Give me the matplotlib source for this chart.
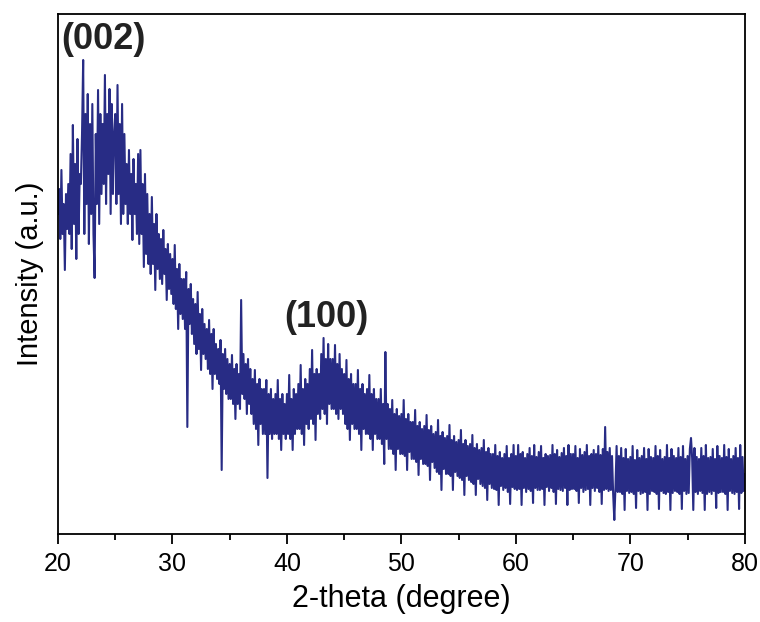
import numpy as np
import matplotlib.pyplot as plt
from matplotlib.ticker import MultipleLocator

plt.rcParams['font.family'] = ['Liberation Sans', 'DejaVu Sans']

# XRD pattern, 2-theta 20..80 deg, step 0.1 (arbitrary intensity units)
intensity = [
    320, 345, 295, 364, 300, 330, 264, 340, 305, 350,  # 20
    300, 380, 285, 409, 310, 370, 275, 395, 300, 360,  # 21
    350, 400, 474, 300, 420, 330, 440, 290, 410, 320,  # 22
    430, 300, 256, 400, 330, 444, 310, 420, 340, 410,  # 23
    350, 459, 330, 420, 360, 445, 320, 430, 340, 400,  # 24
    420, 330, 449, 340, 410, 310, 430, 320, 400, 330,  # 25
    370, 310, 384, 320, 360, 294, 375, 320, 350, 300,  # 26
    380, 290, 384, 300, 350, 267, 360, 280, 340, 270,  # 27
    320, 260, 337, 270, 310, 244, 320, 265, 300, 255,  # 28
    295, 250, 304, 260, 285, 234, 290, 245, 280, 240,  # 29
    275, 230, 289, 225, 265, 205, 270, 220, 255, 215,  # 30
    255, 205, 262, 107, 245, 210, 250, 200, 235, 190,  # 31
    230, 180, 242, 185, 220, 164, 225, 180, 210, 175,  # 32
    205, 165, 214, 160, 200, 145, 205, 160, 190, 155,  # 33
    185, 150, 194, 64, 180, 145, 185, 140, 175, 135,   # 34
    170, 135, 179, 130, 165, 115, 170, 130, 160, 125,  # 35
    234, 140, 180, 135, 170, 120, 175, 130, 165, 120,  # 36
    155, 110, 164, 105, 150, 89, 155, 110, 145, 100,   # 37
    145, 100, 154, 56, 140, 100, 145, 95, 135, 100,    # 38
    140, 100, 154, 95, 135, 84, 140, 100, 130, 95,     # 39
    140, 100, 159, 95, 135, 84, 145, 100, 140, 105,    # 40
    150, 105, 169, 100, 145, 89, 155, 110, 150, 105,   # 41
    165, 115, 184, 110, 160, 94, 165, 120, 160, 115,   # 42
    180, 125, 196, 120, 175, 110, 190, 130, 175, 125,  # 43
    175, 125, 189, 120, 170, 115, 180, 125, 165, 120,  # 44
    160, 110, 174, 105, 155, 94, 160, 110, 150, 105,   # 45
    150, 105, 164, 100, 145, 84, 150, 105, 140, 100,   # 46
    145, 100, 159, 95, 140, 84, 145, 100, 135, 95,     # 47
    135, 95, 145, 90, 130, 70, 182, 95, 130, 85,       # 48
    125, 85, 134, 80, 120, 64, 125, 85, 118, 80,       # 49
    120, 80, 134, 78, 115, 64, 120, 82, 112, 75,       # 50
    112, 75, 124, 72, 108, 59, 112, 75, 105, 70,       # 51
    108, 70, 119, 68, 104, 54, 108, 72, 100, 66,       # 52
    102, 62, 114, 60, 98, 44, 102, 65, 96, 60,         # 53
    98, 60, 109, 58, 94, 44, 98, 62, 92, 58,           # 54
    94, 56, 104, 54, 90, 39, 94, 58, 88, 54,           # 55
    90, 52, 99, 50, 86, 39, 90, 55, 84, 50,            # 56
    86, 48, 94, 46, 82, 34, 86, 50, 80, 46,            # 57
    80, 45, 89, 44, 78, 29, 82, 48, 76, 44,            # 58
    80, 46, 88, 42, 76, 30, 80, 47, 89, 45,            # 59
    78, 44, 89, 45, 80, 29, 82, 46, 76, 42,            # 60
    80, 45, 86, 43, 78, 31, 89, 46, 77, 44,            # 61
    82, 44, 88, 45, 76, 29, 80, 47, 78, 43,            # 62
    79, 46, 89, 42, 80, 30, 84, 45, 77, 44,            # 63
    81, 43, 86, 46, 78, 29, 89, 44, 80, 45,            # 64
    80, 45, 88, 43, 76, 31, 85, 46, 79, 42,            # 65
    82, 44, 89, 45, 78, 29, 80, 46, 84, 43,            # 66
    80, 46, 88, 42, 79, 30, 85, 44, 107, 45,           # 67
    82, 43, 86, 44, 78, 40, 14, 46, 88, 42,            # 68
    78, 42, 86, 40, 76, 24, 85, 43, 75, 41,            # 69
    77, 42, 88, 40, 74, 26, 84, 43, 76, 40,            # 70
    78, 41, 86, 42, 75, 24, 85, 40, 77, 43,            # 71
    76, 42, 88, 40, 78, 25, 84, 43, 75, 41,            # 72
    77, 40, 89, 42, 76, 24, 85, 41, 78, 43,            # 73
    76, 42, 86, 40, 77, 25, 88, 43, 75, 40,            # 74
    78, 41, 85, 96, 76, 24, 86, 42, 77, 40,            # 75
    75, 43, 86, 41, 78, 24, 89, 40, 76, 42,            # 76
    77, 40, 85, 43, 75, 26, 88, 41, 78, 42,            # 77
    76, 42, 89, 40, 77, 24, 85, 43, 75, 41,            # 78
    78, 40, 86, 42, 76, 25, 89, 41, 77, 43,            # 79
    60,                                                # 80
]
two_theta = [20 + 0.1 * i for i in range(len(intensity))]

peak_labels = ["(002)", "(100)"]
peak_pos = [(20.3, 494), (39.8, 216)]

fig = plt.figure(figsize=(7.6, 6.22), dpi=100)
ax = fig.add_axes([0.0763, 0.1415, 0.9037, 0.836])

ax.plot(two_theta, intensity, color='#282c85', lw=1.5)

for lab, (px, py) in zip(peak_labels, peak_pos):
    ax.text(px, py, lab, fontsize=26, fontweight='bold', color='#222222',
            ha='left', va='center')

ax.set_xlim(20, 80)
ax.set_ylim(0, 520)
ax.set_yticks([])
ax.xaxis.set_major_locator(MultipleLocator(10))
ax.xaxis.set_minor_locator(MultipleLocator(5))
ax.tick_params(axis='x', which='major', direction='out', length=7, width=1.3,
               labelsize=18, pad=6)
ax.tick_params(axis='x', which='minor', direction='out', length=4, width=1.3)
for s in ax.spines.values():
    s.set_linewidth(1.3)

ax.set_xlabel("2-theta (degree)", fontsize=22, labelpad=6)
ax.set_ylabel("Intensity (a.u.)", fontsize=21, labelpad=10)

fig.savefig("out.png", dpi=100)
